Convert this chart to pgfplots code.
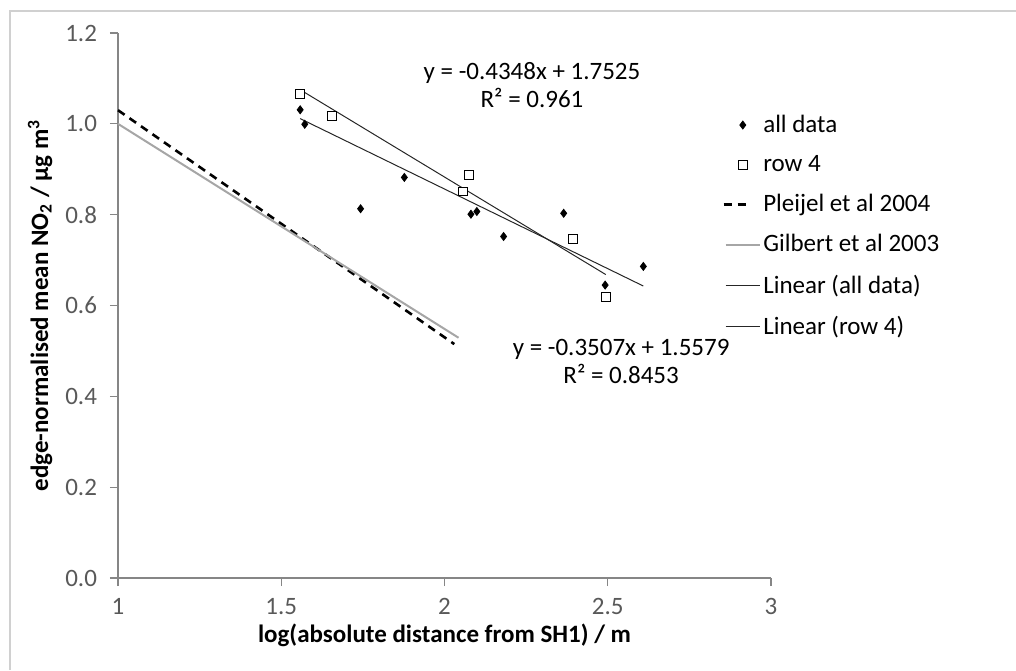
\documentclass[border=0pt]{standalone}
\usepackage{pgfplots}
\pgfplotsset{compat=1.18}
\usepackage{fontspec}
\setmainfont{Carlito}
\definecolor{axisgray}{HTML}{868686}
\definecolor{ticktext}{HTML}{595959}
\definecolor{gilbert}{HTML}{A6A6A6}
\definecolor{framegray}{HTML}{D0D0D0}
\begin{document}
\begin{tikzpicture}
\useasboundingbox (0,0) rectangle (508pt,335pt);
\draw[framegray, line width=1pt] (5pt,0) -- (5pt,329.5pt) -- (508pt,329.5pt);
\begin{axis}[
  at={(59pt,46pt)}, anchor=south west,
  scale only axis, width=326.5pt, height=272.5pt,
  xmin=1, xmax=3, ymin=0, ymax=1.2,
  axis x line*=bottom, axis y line*=left,
  axis line style={axisgray, line width=0.6pt, -},
  xtick={1,1.5,2,2.5,3}, ytick={0,0.2,0.4,0.6,0.8,1.0,1.2},
  tick align=outside, major tick length=4pt,
  tick style={axisgray, line width=0.6pt},
  /pgf/number format/assume math mode=true,
  y tick label style={/pgf/number format/fixed, /pgf/number format/fixed zerofill, /pgf/number format/precision=1, xshift=-3pt},
  x tick label style={/pgf/number format/fixed, yshift=-2.5pt},
  tick label style={font=\fontsize{12.5}{14}\selectfont, text=ticktext},
  xlabel={log(absolute distance from SH1) / m},
  ylabel={edge-normalised mean NO\textsubscript{2} / µg m\textsuperscript{3}},
  every axis x label/.style={at={(axis description cs:0.5,-0.1046)}, anchor=center, font=\fontsize{12.5}{14}\selectfont\bfseries},
  every axis y label/.style={at={(axis description cs:-0.1194,0.5)}, anchor=center, rotate=90, font=\fontsize{12.5}{14}\selectfont\bfseries},
  legend style={at={(0.925,0.855)}, anchor=north west, draw=none, fill=none,
    font=\fontsize{12.5}{14}\selectfont, row sep=7.6pt, inner sep=0pt,
    nodes={inner sep=1.2pt}},
  legend cell align=left,
  clip=false,
]
\addplot[only marks, mark=diamond*, mark size=2pt, black] coordinates {
(1.558,1.031) (1.572,0.999) (1.743,0.813) (1.877,0.882) (2.081,0.801)
(2.099,0.807) (2.181,0.752) (2.365,0.803) (2.492,0.645) (2.609,0.686)};
\addlegendentry{all data}
\addplot[only marks, mark=square*, mark size=2.2pt, black, mark options={fill=white, line width=0.5pt}] coordinates {
(1.557,1.066) (1.656,1.018) (2.076,0.888) (2.057,0.851) (2.394,0.746) (2.494,0.619)};
\addlegendentry{row 4}
\addplot[black, line width=1.3pt, dash pattern=on 4pt off 3pt,
  legend image code/.code={\draw[black, line width=1.3pt] (-1pt,0pt) -- (3.5pt,0pt); \draw[black, line width=1.3pt] (6pt,0pt) -- (12pt,0pt);}]
  coordinates {(1,1.03) (2.03,0.515)};
\addlegendentry{Pleijel et al 2004}
\addplot[gilbert, line width=1pt] coordinates {(1,1.0) (2.043,0.529)};
\addlegendentry{Gilbert et al 2003}
\addplot[black!85, line width=0.5pt] coordinates {(1.558,1.0115) (2.609,0.6429)};
\addlegendentry{Linear (all data)}
\addplot[black!85, line width=0.5pt] coordinates {(1.557,1.0755) (2.494,0.6681)};
\addlegendentry{Linear (row 4)}
\node[font=\fontsize{12.5}{14}\selectfont] at (axis cs:2.268,1.112) {y = -0.4348x + 1.7525};
\node[font=\fontsize{12.5}{14}\selectfont] at (axis cs:2.268,1.057) {R² = 0.961};
\node[font=\fontsize{12.5}{14}\selectfont] at (axis cs:2.541,0.504) {y = -0.3507x + 1.5579};
\node[font=\fontsize{12.5}{14}\selectfont] at (axis cs:2.541,0.449) {R² = 0.8453};
\end{axis}
\end{tikzpicture}
\end{document}
